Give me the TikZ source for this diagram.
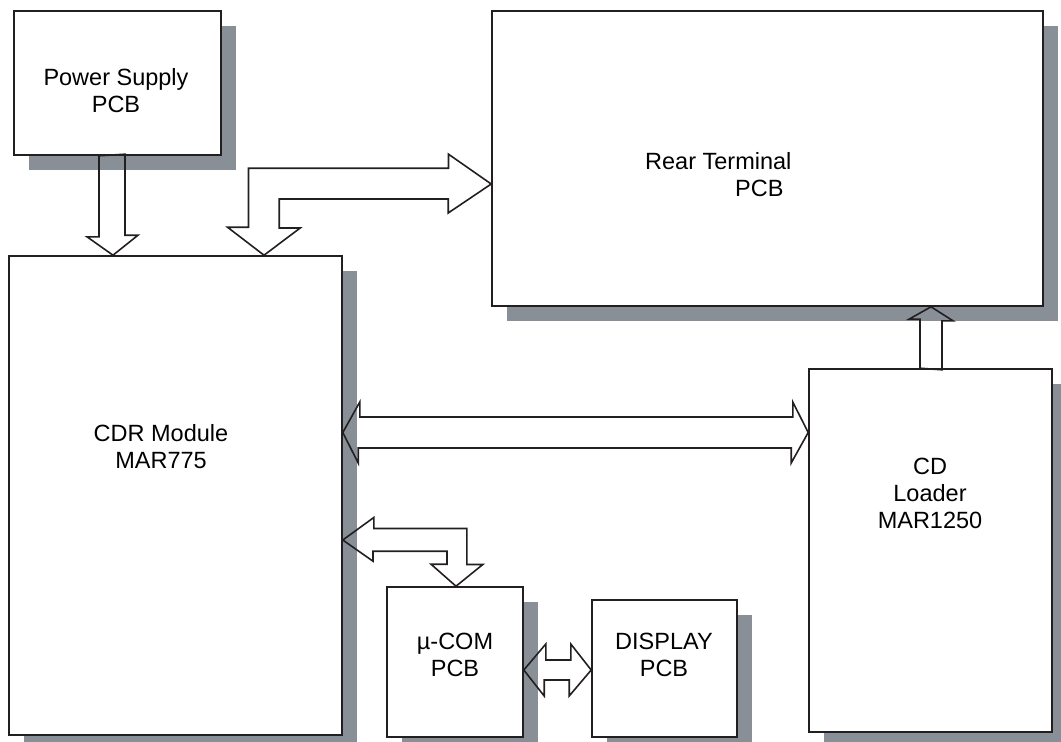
\documentclass[tikz,border=0pt]{standalone}
\usepackage{fontspec}
\setmainfont{Liberation Sans}
\usetikzlibrary{calc,shadows}
\definecolor{shadowgray}{RGB}{137,143,150}
\definecolor{linegray}{RGB}{35,31,32}
\tikzset{
  box/.style={draw=linegray, line width=1.6pt, fill=white, inner sep=0pt,
    general shadow={fill=shadowgray, shadow xshift=15pt, shadow yshift=-15pt}},
  txt/.style={inner sep=0pt, align=center, font=\fontsize{23.5}{27}\selectfont},
  blockarrow/.style={draw=linegray, line width=1.6pt, line join=miter}
}
\begin{document}
\begin{tikzpicture}[x=1pt,y=-1pt]
    \useasboundingbox (0,0) rectangle (1061,742);
    % boxes
    \node[box, minimum width=207pt, minimum height=144pt] (psu) at (117.5,83) {};
    \node[box, minimum width=551pt, minimum height=295pt] (rear) at (767.5,158.5) {};
    \node[box, minimum width=333pt, minimum height=479pt] (cdr) at (175.5,495.5) {};
    \node[box, minimum width=243pt, minimum height=363pt] (cdl) at (930.5,550.5) {};
    \node[box, minimum width=136pt, minimum height=150pt] (ucom) at (455,662) {};
    \node[box, minimum width=145pt, minimum height=137pt] (disp) at (664.5,668.5) {};
    % labels
    \node[txt] (psutxt) at (116,91) {Power Supply\\PCB};
    \node[txt, align=left, anchor=west] (reartxt) at (645,175) {Rear Terminal\\\hspace*{90pt}PCB};
    \node[txt] (cdrtxt) at (161,447) {CDR Module\\MAR775};
    \node[txt] (cdltxt) at (930,493) {CD\\Loader\\MAR1250};
    \node[txt] (ucomtxt) at (455,655) {µ-COM\\PCB};
    \node[txt] (disptxt) at (664,655) {DISPLAY\\PCB};
    % block arrows
    \draw[blockarrow] ($(psu.south)+(-18.5,0)$) -- ++(0,81) -- ++(-12,0) -- ($(cdr.north)+(-62.5,0)$)
      -- ++(25,-20) -- ++(-13,0) -- ++(0,-81) -- cycle;
    \draw[blockarrow] ($(cdr.north)+(88.5,0)$) -- ++(-36.5,-28) -- ++(21,0) -- ++(0,-59) -- ++(200,0)
      -- ++(0,-14) -- ($(rear.west)+(0,25.5)$) -- ++(-43,29) -- ++(0,-14) -- ++(-169,0)
      -- ++(0,29) -- ++(21,0) -- cycle;
    \draw[blockarrow] ($(cdr.east)+(0,-63)$) -- ++(17,-30.5) -- ++(0,15) -- ++(433,0) -- ++(0,-15)
      -- ($(cdl.west)+(0,-118)$) -- ++(-17,30.5) -- ++(0,-15) -- ++(-433,0) -- ++(0,15) -- cycle;
    \draw[blockarrow] ($(cdl.north)+(-10.5,0)$) -- ++(0,-49) -- ++(-11,0) -- ($(rear.south)+(163.5,0)$)
      -- ++(22,14) -- ++(-11,0) -- ++(0,49) -- cycle;
    \draw[blockarrow] ($(cdr.east)+(0,44.5)$) -- ++(31,-22.5) -- ++(0,11) -- ++(93,0) -- ++(0,36)
      -- ++(16,0) -- ($(ucom.north)+(1,0)$) -- ++(-25,-22) -- ++(16,0) -- ++(0,-13) -- ++(-74,0)
      -- ++(0,10) -- cycle;
    \draw[blockarrow] ($(ucom.east)+(0,8)$) -- ++(22,-26) -- ++(0,16) -- ++(25,0) -- ++(0,-16)
      -- ($(disp.west)+(0,1.5)$) -- ++(-22,26) -- ++(0,-16) -- ++(-25,0) -- ++(0,16) -- cycle;
\end{tikzpicture}
\end{document}
